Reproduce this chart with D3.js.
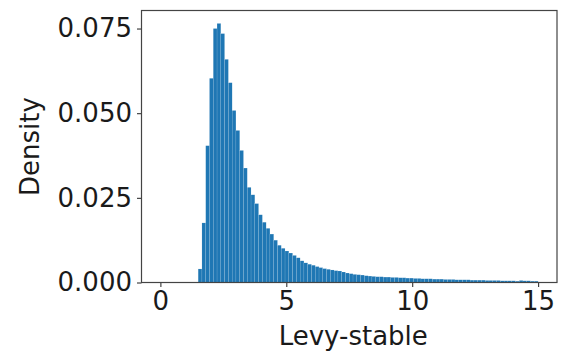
<!DOCTYPE html>
<html>
<head>
<meta charset="utf-8">
<script src="https://cdn.jsdelivr.net/npm/d3@7"></script>
<style>
  body { margin: 0; background: #fff; }
  text { font-family: "DejaVu Sans", sans-serif; fill: #1a1a1a; }
</style>
</head>
<body>
<svg id="chart" width="561" height="356"></svg>
<script>
// histogram: 100 bins over [0, 15], density
const binStart = 0;
const binWidth = 0.15;
const density = [
  0, 0, 0, 0, 0, 0, 0, 0, 0, 0,
  0.0040, 0.0176, 0.0404, 0.0603, 0.0750, 0.0765, 0.0735, 0.0659, 0.0590, 0.0508,
  0.0449, 0.0390, 0.0338, 0.0281, 0.0259, 0.0233, 0.0200, 0.0178, 0.0160, 0.0143,
  0.0125, 0.0110, 0.0101, 0.0093, 0.0087, 0.0080, 0.0073, 0.0064, 0.0058, 0.0054,
  0.0051, 0.0047, 0.0044, 0.0041, 0.0039, 0.0037, 0.0035, 0.0034, 0.0031, 0.0028,
  0.0026, 0.0024, 0.0023, 0.0022, 0.0020, 0.0019, 0.0018, 0.0017, 0.0017, 0.0016,
  0.0016, 0.0015, 0.0015, 0.0014, 0.0014, 0.0013, 0.0013, 0.0012, 0.0012, 0.0011,
  0.0011, 0.0011, 0.0010, 0.0010, 0.0010, 0.0009, 0.0009, 0.0009, 0.0008, 0.0008,
  0.0008, 0.0008, 0.0007, 0.0007, 0.0007, 0.0007, 0.0006, 0.0006, 0.0006, 0.0006,
  0.0005, 0.0005, 0.0005, 0.0005, 0.0004, 0.0006, 0.0005, 0.0005, 0.0004, 0.0004
];
const xTicks = [0, 5, 10, 15];
const yTicks = [0, 0.025, 0.05, 0.075];
const xLabel = "Levy-stable";
const yLabel = "Density";

const margin = { left: 141.5, top: 10.5, right: 4, bottom: 73.5 };
const width = 561 - margin.left - margin.right;
const height = 356 - margin.top - margin.bottom;

const svg = d3.select("#chart")
  .append("g")
  .attr("transform", "translate(" + margin.left + "," + margin.top + ")");

const bins = density.map((d, i) => ({
  x0: binStart + i * binWidth,
  x1: binStart + (i + 1) * binWidth,
  value: d
}));

// matplotlib-like 5% margins
const xMin = 0, xMax = 15;
const xPad = (xMax - xMin) * 0.05;
const x = d3.scaleLinear()
  .domain([xMin - xPad, xMax + xPad])
  .range([0, width]);

const yMax = d3.max(density);
const y = d3.scaleLinear()
  .domain([0, yMax * 1.05])
  .range([height, 0]);

// bars
svg.selectAll("rect.bar")
  .data(bins)
  .enter()
  .append("rect")
  .attr("class", "bar")
  .attr("x", d => x(d.x0))
  .attr("y", d => y(d.value))
  .attr("width", d => x(d.x1) - x(d.x0))
  .attr("height", d => y(0) - y(d.value))
  .attr("fill", "#1f77b4")
  .attr("stroke", "#ffffff")
  .attr("stroke-width", 0.3)
  .attr("stroke-opacity", 0.35);

// x axis
const xAxis = svg.append("g")
  .attr("transform", "translate(0," + height + ")")
  .call(d3.axisBottom(x).tickValues(xTicks).tickFormat(d3.format("d")).tickSize(4.5).tickPadding(5));
xAxis.select(".domain").remove();
xAxis.selectAll("line").attr("stroke", "#333").attr("stroke-width", 1.1);
xAxis.selectAll("text").attr("font-size", 26).attr("font-family", "DejaVu Sans").attr("fill", "#1a1a1a");

// y axis
const yAxis = svg.append("g")
  .call(d3.axisLeft(y).tickValues(yTicks).tickFormat(d3.format(".3f")).tickSize(4.5).tickPadding(5));
yAxis.select(".domain").remove();
yAxis.selectAll("line").attr("stroke", "#333").attr("stroke-width", 1.1);
yAxis.selectAll("text").attr("font-size", 26).attr("font-family", "DejaVu Sans").attr("fill", "#1a1a1a");

// frame
svg.append("rect")
  .attr("x", 0)
  .attr("y", 0)
  .attr("width", width)
  .attr("height", height)
  .attr("fill", "none")
  .attr("stroke", "#444")
  .attr("stroke-width", 1.2);

// labels
svg.append("text")
  .attr("x", width / 2 + 4)
  .attr("y", height + 62)
  .attr("text-anchor", "middle")
  .attr("font-size", 26)
  .text(xLabel);

svg.append("text")
  .attr("transform", "translate(" + (-103) + "," + (height / 2) + ") rotate(-90)")
  .attr("text-anchor", "middle")
  .attr("font-size", 26)
  .text(yLabel);
</script>
</body>
</html>
